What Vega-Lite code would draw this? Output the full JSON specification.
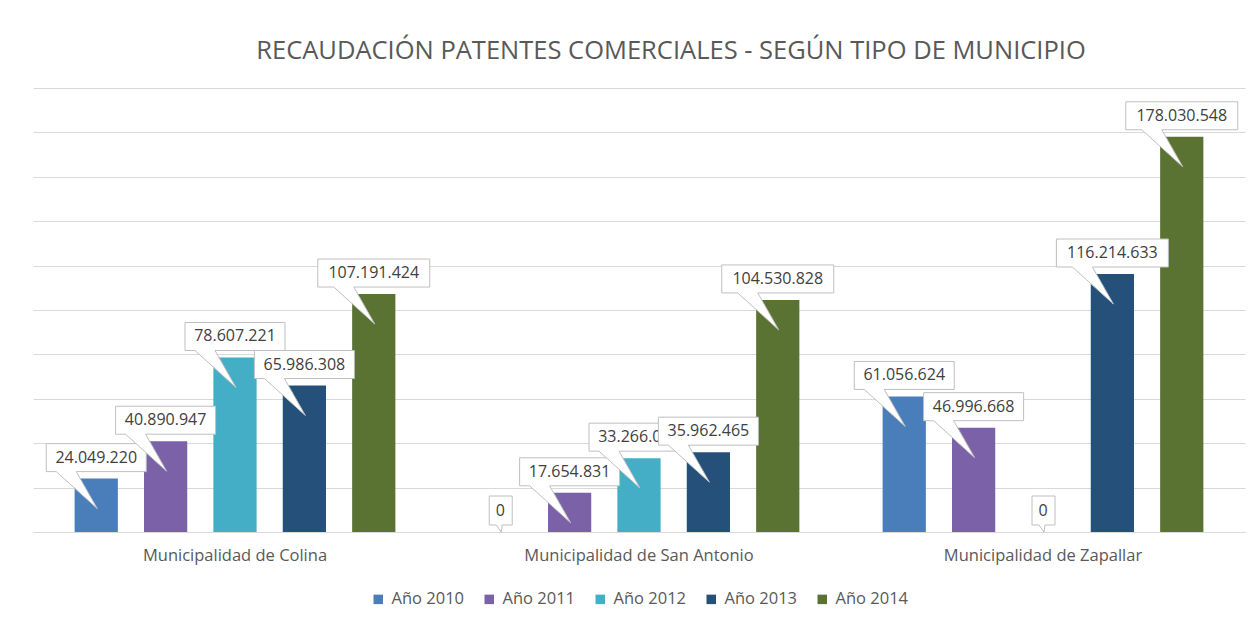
{
  "$schema": "https://vega.github.io/schema/vega-lite/v6.json",
  "width": 1212,
  "height": 444,
  "autosize": {"type": "none"},
  "padding": {"left": 33, "top": 88, "right": 11, "bottom": 89},
  "background": "white",
  "config": {
    "view": {"stroke": null},
    "font": "Open Sans",
    "locale": {"number": {"decimal": ",", "thousands": ".", "grouping": [3], "currency": ["$", ""]}}
  },
  "title": {
    "text": "RECAUDACIÓN PATENTES COMERCIALES - SEGÚN TIPO DE MUNICIPIO",
    "fontSize": 25.5,
    "fontWeight": "normal",
    "color": "#595959",
    "font": "Open Sans",
    "frame": "group",
    "anchor": "middle",
    "baseline": "alphabetic",
    "offset": 4,
    "dx": 32
  },
  "data": {
    "values": [
      {"m": "Municipalidad de Colina", "anio": "Año 2010", "v": 24049220},
      {"m": "Municipalidad de Colina", "anio": "Año 2011", "v": 40890947},
      {"m": "Municipalidad de Colina", "anio": "Año 2012", "v": 78607221},
      {"m": "Municipalidad de Colina", "anio": "Año 2013", "v": 65986308},
      {"m": "Municipalidad de Colina", "anio": "Año 2014", "v": 107191424},
      {"m": "Municipalidad de San Antonio", "anio": "Año 2010", "v": 0},
      {"m": "Municipalidad de San Antonio", "anio": "Año 2011", "v": 17654831},
      {"m": "Municipalidad de San Antonio", "anio": "Año 2012", "v": 33266000},
      {"m": "Municipalidad de San Antonio", "anio": "Año 2013", "v": 35962465},
      {"m": "Municipalidad de San Antonio", "anio": "Año 2014", "v": 104530828},
      {"m": "Municipalidad de Zapallar", "anio": "Año 2010", "v": 61056624},
      {"m": "Municipalidad de Zapallar", "anio": "Año 2011", "v": 46996668},
      {"m": "Municipalidad de Zapallar", "anio": "Año 2012", "v": 0},
      {"m": "Municipalidad de Zapallar", "anio": "Año 2013", "v": 116214633},
      {"m": "Municipalidad de Zapallar", "anio": "Año 2014", "v": 178030548}
    ]
  },
  "encoding": {
    "x": {
      "field": "m", "type": "nominal",
      "scale": {"domain": ["Municipalidad de Colina", "Municipalidad de San Antonio", "Municipalidad de Zapallar"], "paddingInner": 0, "paddingOuter": 0},
      "axis": {"title": null, "labelAngle": 0, "ticks": false, "domain": true, "domainColor": "#d9d9d9", "labelFontSize": 16.5, "labelColor": "#595959", "labelPadding": 15, "labelFont": "Open Sans", "labelLimit": 0}
    },
    "xOffset": {
      "field": "anio", "type": "nominal",
      "scale": {"domain": ["Año 2010", "Año 2011", "Año 2012", "Año 2013", "Año 2014"], "paddingInner": 0.377, "paddingOuter": 0.6}
    },
    "y": {
      "field": "v", "type": "quantitative",
      "scale": {"domain": [0, 200000000], "nice": false},
      "axis": {"title": null, "labels": false, "ticks": false, "domain": false, "grid": true, "gridColor": "#d9d9d9", "tickCount": 10}
    }
  },
  "layer": [
    {
      "mark": {"type": "bar"},
      "encoding": {
        "color": {
          "field": "anio", "type": "nominal",
          "scale": {"domain": ["Año 2010", "Año 2011", "Año 2012", "Año 2013", "Año 2014"], "range": ["#4A7EBB", "#7B62A8", "#44AEC6", "#24507A", "#5A7332"]},
          "legend": {"title": null, "orient": "none", "direction": "horizontal", "legendX": 337, "legendY": 503, "symbolType": "square", "symbolSize": 90, "symbolStrokeWidth": 0, "labelFontSize": 16.5, "labelColor": "#595959", "labelFont": "Open Sans", "labelOffset": 5, "columnPadding": 16}
        }
      }
    },
    {"transform": [{"filter": "datum.anio == 'Año 2010'"}], "mark": {"type": "point", "filled": true, "fill": "white", "stroke": "#bfbfbf", "strokeWidth": 1, "opacity": 1, "size": 4},
     "encoding": {"shape": {"condition": [{"test": "datum.v == 0", "value": "M-11,-36L12,-36L12,-7L2,-7L1,0L-4,-7L-11,-7Z"}, {"test": "datum.v >= 100000000", "value": "M-56,-35L56,-35L56,-7L-20,-7L1,30L-40,-7L-56,-7Z"}], "value": "M-50,-35L50,-35L50,-7L-20,-7L1,30L-40,-7L-50,-7Z"}}},
    {"transform": [{"filter": "datum.anio == 'Año 2010'"}], "mark": {"type": "text", "baseline": "middle", "dy": -21, "fontSize": 16, "color": "#404040", "font": "Open Sans"},
     "encoding": {"text": {"field": "v", "type": "quantitative", "format": ",d"}}},
    {"transform": [{"filter": "datum.anio == 'Año 2011'"}], "mark": {"type": "point", "filled": true, "fill": "white", "stroke": "#bfbfbf", "strokeWidth": 1, "opacity": 1, "size": 4},
     "encoding": {"shape": {"condition": [{"test": "datum.v == 0", "value": "M-11,-36L12,-36L12,-7L2,-7L1,0L-4,-7L-11,-7Z"}, {"test": "datum.v >= 100000000", "value": "M-56,-35L56,-35L56,-7L-20,-7L1,30L-40,-7L-56,-7Z"}], "value": "M-50,-35L50,-35L50,-7L-20,-7L1,30L-40,-7L-50,-7Z"}}},
    {"transform": [{"filter": "datum.anio == 'Año 2011'"}], "mark": {"type": "text", "baseline": "middle", "dy": -21, "fontSize": 16, "color": "#404040", "font": "Open Sans"},
     "encoding": {"text": {"field": "v", "type": "quantitative", "format": ",d"}}},
    {"transform": [{"filter": "datum.anio == 'Año 2012'"}], "mark": {"type": "point", "filled": true, "fill": "white", "stroke": "#bfbfbf", "strokeWidth": 1, "opacity": 1, "size": 4},
     "encoding": {"shape": {"condition": [{"test": "datum.v == 0", "value": "M-11,-36L12,-36L12,-7L2,-7L1,0L-4,-7L-11,-7Z"}, {"test": "datum.v >= 100000000", "value": "M-56,-35L56,-35L56,-7L-20,-7L1,30L-40,-7L-56,-7Z"}], "value": "M-50,-35L50,-35L50,-7L-20,-7L1,30L-40,-7L-50,-7Z"}}},
    {"transform": [{"filter": "datum.anio == 'Año 2012'"}], "mark": {"type": "text", "baseline": "middle", "dy": -21, "fontSize": 16, "color": "#404040", "font": "Open Sans"},
     "encoding": {"text": {"field": "v", "type": "quantitative", "format": ",d"}}},
    {"transform": [{"filter": "datum.anio == 'Año 2013'"}], "mark": {"type": "point", "filled": true, "fill": "white", "stroke": "#bfbfbf", "strokeWidth": 1, "opacity": 1, "size": 4},
     "encoding": {"shape": {"condition": [{"test": "datum.v == 0", "value": "M-11,-36L12,-36L12,-7L2,-7L1,0L-4,-7L-11,-7Z"}, {"test": "datum.v >= 100000000", "value": "M-56,-35L56,-35L56,-7L-20,-7L1,30L-40,-7L-56,-7Z"}], "value": "M-50,-35L50,-35L50,-7L-20,-7L1,30L-40,-7L-50,-7Z"}}},
    {"transform": [{"filter": "datum.anio == 'Año 2013'"}], "mark": {"type": "text", "baseline": "middle", "dy": -21, "fontSize": 16, "color": "#404040", "font": "Open Sans"},
     "encoding": {"text": {"field": "v", "type": "quantitative", "format": ",d"}}},
    {"transform": [{"filter": "datum.anio == 'Año 2014'"}], "mark": {"type": "point", "filled": true, "fill": "white", "stroke": "#bfbfbf", "strokeWidth": 1, "opacity": 1, "size": 4},
     "encoding": {"shape": {"condition": [{"test": "datum.v == 0", "value": "M-11,-36L12,-36L12,-7L2,-7L1,0L-4,-7L-11,-7Z"}, {"test": "datum.v >= 100000000", "value": "M-56,-35L56,-35L56,-7L-20,-7L1,30L-40,-7L-56,-7Z"}], "value": "M-50,-35L50,-35L50,-7L-20,-7L1,30L-40,-7L-50,-7Z"}}},
    {"transform": [{"filter": "datum.anio == 'Año 2014'"}], "mark": {"type": "text", "baseline": "middle", "dy": -21, "fontSize": 16, "color": "#404040", "font": "Open Sans"},
     "encoding": {"text": {"field": "v", "type": "quantitative", "format": ",d"}}}
  ]
}
